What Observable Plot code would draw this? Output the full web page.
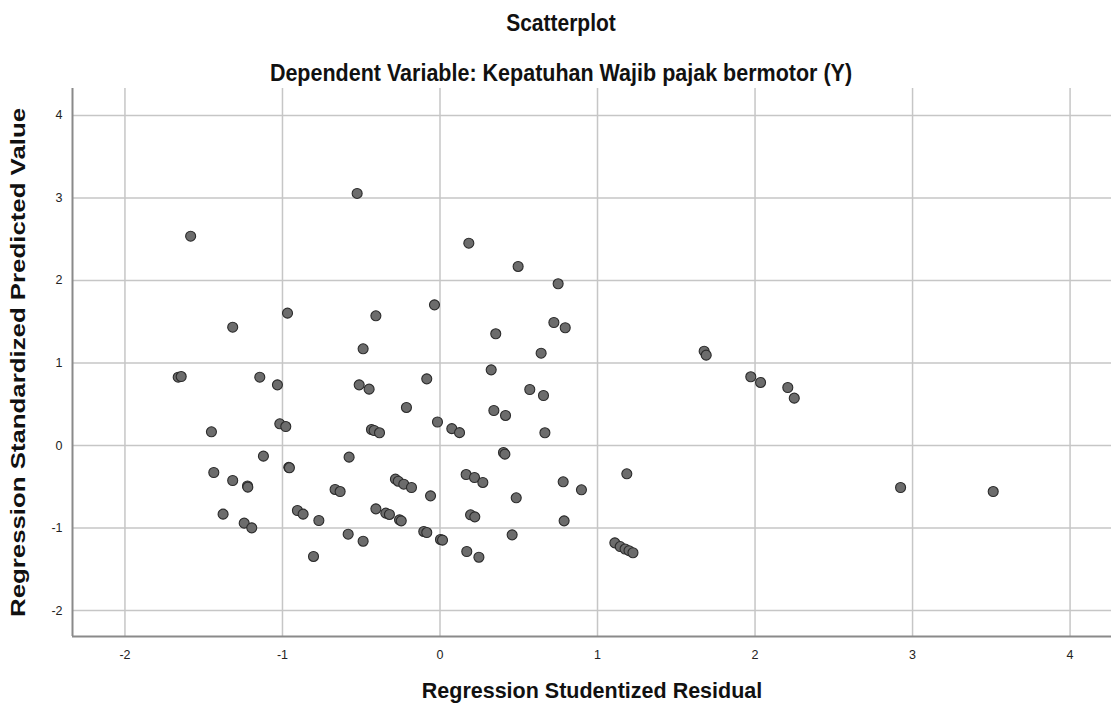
<!DOCTYPE html>
<html>
<head>
<meta charset="utf-8">
<script src="https://cdn.jsdelivr.net/npm/d3@7"></script>
<script src="https://cdn.jsdelivr.net/npm/@observablehq/plot@0.6"></script>
<style>
  html, body { margin: 0; padding: 0; background: #fff; }
  #wrap { position: relative; width: 1111px; height: 709px; font-family: "Liberation Sans", Arial, sans-serif; }
  .title { position: absolute; left: 0; width: 1122px; text-align: center; color: #111; font-size: 21px; font-weight: bold; line-height: 24px; z-index: 2; transform: scaleY(1.12); transform-origin: 50% 50%; }
  #t1 { top: 11px; }
  #t2 { top: 61px; font-size: 21.5px; }
  svg { position: absolute; left: 0; top: 0; }
</style>
</head>
<body>
<div id="wrap">
  <div class="title" id="t1"></div>
  <div class="title" id="t2"></div>
</div>
<script>
const title = "Scatterplot";
const subtitle = "Dependent Variable: Kepatuhan Wajib pajak bermotor (Y)";
const xLabel = "Regression Studentized Residual";
const yLabel = "Regression Standardized Predicted Value";
const xTicks = [-2, -1, 0, 1, 2, 3, 4];
const yTicks = [-2, -1, 0, 1, 2, 3, 4];

const residual = [
  -1.583, -0.526, -1.316, -0.968, -0.407, -0.035, -0.488, 0.183, 0.496, 0.750,
  0.354, 0.723, 0.795, 0.642, 1.677, 1.690, -1.662, -1.643, -1.144, -1.032,
  -0.513, -0.450, -0.084, -0.213, -1.451, -1.017, -0.979, -0.435, -0.418, -0.384,
  -0.016, 0.075, 0.124, -1.121, -0.960, -0.956, -0.577, -1.436, -1.316, -1.222,
  -1.220, -0.666, -0.634, -0.283, -0.265, -0.230, -0.181, -0.060, -1.377, -1.243,
  -1.195, -0.905, -0.869, -0.769, -0.407, -0.344, -0.321, -0.257, -0.246, -0.583,
  -0.488, -0.103, -0.084, 0.003, 0.016, -0.803, 0.325, 0.570, 0.657, 0.342,
  0.416, 0.666, 0.403, 0.412, 0.166, 0.219, 0.272, 0.484, 0.782, 0.898,
  1.186, 0.194, 0.221, 0.788, 0.458, 0.170, 0.247, 1.110, 1.144, 1.175,
  1.200, 1.225, 1.973, 2.035, 2.208, 2.249, 2.924, 3.512
];
const predicted = [
  2.537, 3.055, 1.434, 1.604, 1.572, 1.705, 1.172, 2.452, 2.170, 1.960,
  1.354, 1.491, 1.427, 1.119, 1.143, 1.095, 0.828, 0.836, 0.828, 0.735,
  0.735, 0.683, 0.808, 0.461, 0.166, 0.263, 0.230, 0.194, 0.182, 0.154,
  0.285, 0.204, 0.156, -0.129, -0.265, -0.270, -0.141, -0.327, -0.424, -0.490,
  -0.505, -0.533, -0.558, -0.408, -0.433, -0.469, -0.509, -0.610, -0.832, -0.941,
  -0.998, -0.788, -0.832, -0.909, -0.768, -0.820, -0.836, -0.901, -0.913, -1.075,
  -1.160, -1.042, -1.055, -1.139, -1.147, -1.345, 0.917, 0.679, 0.606, 0.424,
  0.364, 0.154, -0.085, -0.105, -0.352, -0.388, -0.448, -0.634, -0.440, -0.537,
  -0.343, -0.840, -0.865, -0.913, -1.083, -1.285, -1.354, -1.180, -1.225, -1.255,
  -1.275, -1.300, 0.833, 0.764, 0.703, 0.574, -0.509, -0.558
];

document.getElementById("t1").textContent = title;
document.getElementById("t2").textContent = subtitle;

const data = residual.map((r, i) => ({x: r, y: predicted[i]}));
const xDomain = [-2.333, 4.263];
const yDomain = [-2.315, 4.327];
const fmt = d => String(d);

const chart = Plot.plot({
  width: 1111,
  height: 709,
  marginLeft: 72,
  marginRight: 0,
  marginTop: 88,
  marginBottom: 73,
  style: {fontFamily: "'Liberation Sans', Arial, sans-serif", fontSize: "12px", color: "#222", background: "transparent"},
  x: {domain: xDomain, label: null},
  y: {domain: yDomain, label: null},
  marks: [
    Plot.gridX(xTicks, {stroke: "#c6c6c6", strokeOpacity: 1, strokeWidth: 1.5}),
    Plot.gridY(yTicks, {stroke: "#c6c6c6", strokeOpacity: 1, strokeWidth: 1.5}),
    Plot.ruleX([xDomain[0]], {stroke: "#8a8a8a", strokeWidth: 2}),
    Plot.ruleY([yDomain[0]], {stroke: "#8a8a8a", strokeWidth: 2}),
    Plot.axisX(xTicks, {tickSize: 0, tickPadding: 14, tickFormat: fmt, fontSize: 12.5, fill: "#222", label: null}),
    Plot.axisY(yTicks, {tickSize: 0, tickPadding: 10, tickFormat: fmt, fontSize: 12.5, fill: "#222", label: null}),
    Plot.axisX({label: xLabel, ticks: [], tickSize: 0, labelAnchor: "center", labelArrow: "none", labelOffset: 61, fontSize: 21.5, fontWeight: "bold", fill: "#111"}),
    Plot.axisY({label: yLabel, ticks: [], tickSize: 0, labelAnchor: "center", labelArrow: "none", labelOffset: 62, fontSize: 20, fontWeight: "bold", fill: "#111"}),
    Plot.dot(data, {x: "x", y: "y", r: 5, fill: "#6c6c6c", stroke: "#2b2b2b", strokeWidth: 1.1})
  ]
});
// stretch the vertical axis title along its length, as in the original export
const yl = chart.querySelector('[aria-label="y-axis label"] text');
if (yl) { yl.setAttribute("textLength", 509); yl.setAttribute("lengthAdjust", "spacingAndGlyphs"); }
document.getElementById("wrap").prepend(chart);
</script>
</body>
</html>
